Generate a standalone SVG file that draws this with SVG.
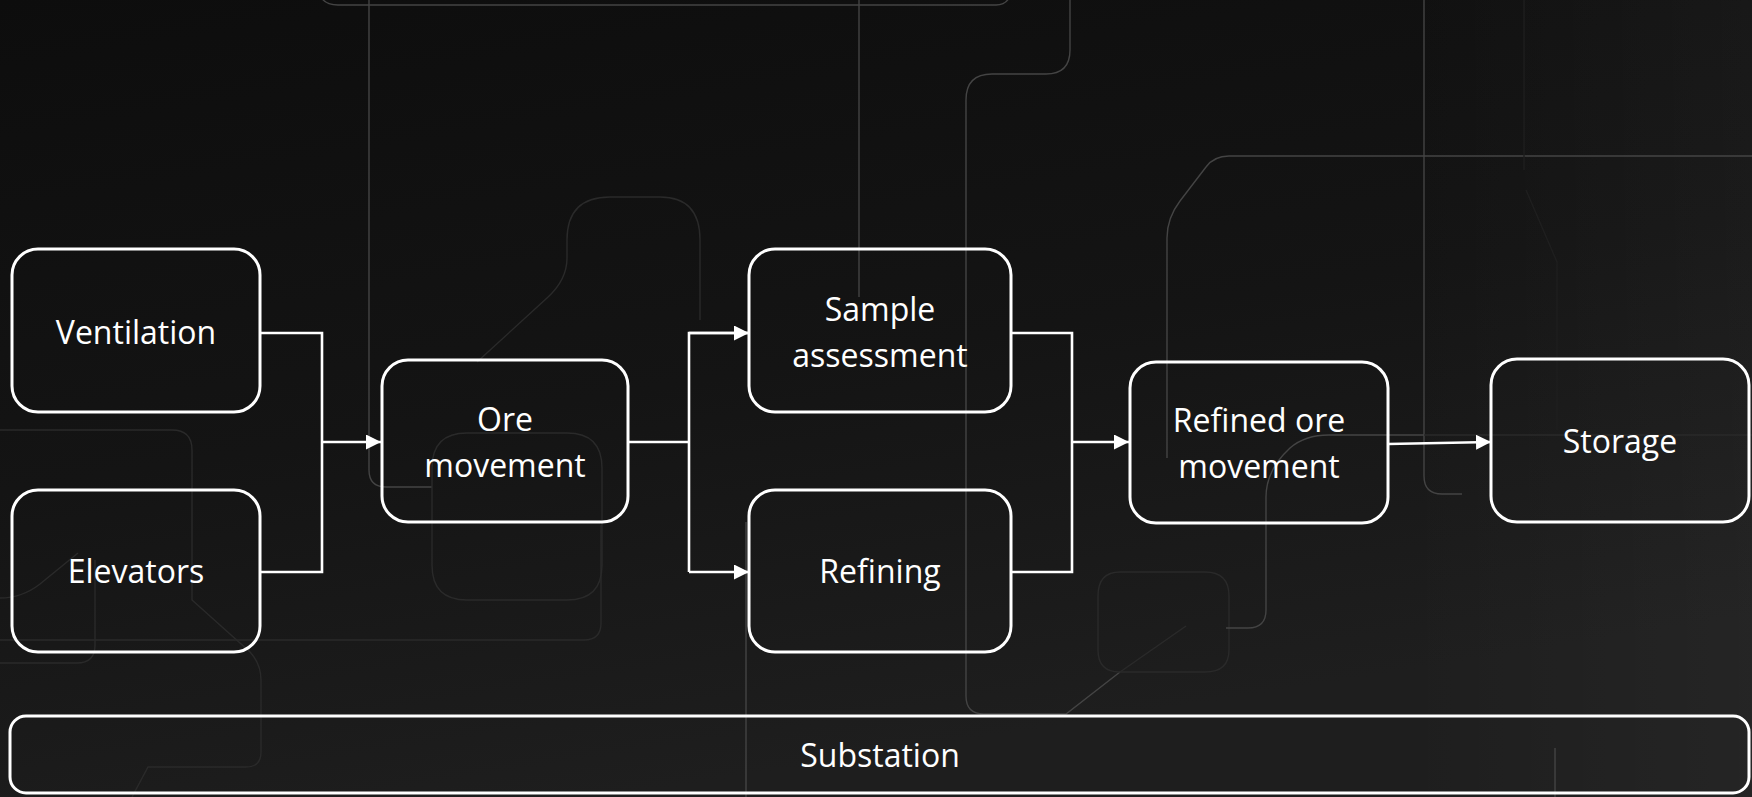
<svg xmlns="http://www.w3.org/2000/svg" width="1752" height="797" viewBox="0 0 1752 797">
  <defs>
    <linearGradient id="bg" x1="0" y1="0" x2="0.35" y2="1">
      <stop offset="0" stop-color="#0d0d0d"/>
      <stop offset="0.55" stop-color="#141414"/>
      <stop offset="1" stop-color="#1e1e1e"/>
    </linearGradient>
    <linearGradient id="bgSide" x1="0" y1="0" x2="1" y2="0">
      <stop offset="0.8" stop-color="#ffffff" stop-opacity="0"/>
      <stop offset="1" stop-color="#ffffff" stop-opacity="0.03"/>
    </linearGradient>
    <marker id="arrow" markerUnits="userSpaceOnUse" markerWidth="16" markerHeight="16" refX="15" refY="7.5" orient="auto">
      <path d="M0,0 L15,7.5 L0,15 z" fill="#ffffff"/>
    </marker>
    <style>
      .deco { fill: none; stroke: #444444; stroke-width: 1.4; }
      .deco-faint { fill: none; stroke: #2a2a2a; stroke-width: 1.4; }
      .deco-dim { fill: none; stroke: #1f1f1f; stroke-width: 1.4; }
      .box { fill: none; stroke: #ffffff; stroke-width: 3; }
      .label { font-family: "Open Sans", "Noto Sans", sans-serif; font-size: 32px; fill: #ffffff; text-anchor: middle; }
      .wire { fill: none; stroke: #ffffff; stroke-width: 2.6; }
    </style>
  </defs>

  <!-- backdrop -->
  <rect x="0" y="0" width="1752" height="797" fill="url(#bg)"/>
  <rect x="0" y="0" width="1752" height="797" fill="url(#bgSide)"/>

  <!-- decorative circuit traces -->
  <g id="traces">
    <path class="deco" d="M318,-12 Q320,5 338,5 H996 Q1010,5 1012,-12"/>
    <path class="deco" d="M1070,-1 V50 Q1070,74 1046,74 H992 Q966,74 966,100 V696 Q966,714 984,714 H1066 L1120,672"/>
    <path class="deco-faint" d="M1120,672 L1186,626" stroke-width="4"/>
    <path class="deco-faint" d="M1120,572 H1205 Q1229,572 1229,596 V650 Q1229,672 1205,672 H1120 Q1098,672 1098,650 V596 Q1098,572 1120,572 z"/>
    <path class="deco" d="M369,-1 V470 Q369,487 386,487 H432"/>
    <path class="deco" d="M859,-1 V297"/>
    <path class="deco" d="M746,522 V797"/>
    <path class="deco" d="M1424,-1 V476 Q1424,494 1442,494 H1462"/>
    <path class="deco" d="M1752,156 H1229 Q1214,156 1206,167 L1180,201 Q1167,218 1167,238 V458"/>
    <path class="deco" d="M1226,628 H1248 Q1266,628 1266,610 V497 Q1266,470 1290,448 Q1305,435 1329,435 H1424"/>
    <path class="deco-faint" d="M1424,435 H1752"/>
    <path class="deco-dim" d="M1524,-1 V170 M1526,190 L1557,262 V430"/>
    <path class="deco" d="M1555,748 V797"/>
    <path class="deco-faint" d="M0,640 H584 Q601,640 601,623 V525"/>
    <path class="deco-faint" d="M0,430 H172 Q192,430 192,450 V600 L250,652 Q261,664 261,680 V752 Q261,767 246,767 H148 L132,797"/>
    <path class="deco-faint" d="M0,598 Q22,598 40,584 L78,553"/>
    <path class="deco-faint" d="M95,560 V645 Q95,663 77,663 H0"/>
    <path class="deco-faint" d="M477,362 L547,298 Q567,280 567,258 V240 Q567,197 610,197 H660 Q700,197 700,240 V320"/>
    <path class="deco-faint" d="M467,433 H567 Q602,433 602,468 V565 Q602,600 567,600 H467 Q432,600 432,565 V468 Q432,433 467,433 z"/>
  </g>

  <!-- connectors -->
  <g id="connectors">
    <path class="wire" d="M260,333 H322 V572 H260"/>
    <path class="wire" d="M322,442 H381" marker-end="url(#arrow)"/>
    <path class="wire" d="M628,442 H689"/>
    <path class="wire" d="M749,333 H689 V572"/>
    <path class="wire" d="M689,333 H749" marker-end="url(#arrow)"/>
    <path class="wire" d="M689,572 H749" marker-end="url(#arrow)"/>
    <path class="wire" d="M1011,333 H1072 V572 H1011"/>
    <path class="wire" d="M1072,442 H1129" marker-end="url(#arrow)"/>
    <path class="wire" d="M1388,444 L1491,442" marker-end="url(#arrow)"/>
  </g>

  <!-- nodes -->
  <g id="ventilation">
    <rect class="box" x="12" y="249" width="248" height="163" rx="26"/>
    <text class="label" x="136" y="344">Ventilation</text>
  </g>
  <g id="elevators">
    <rect class="box" x="12" y="490" width="248" height="162" rx="26"/>
    <text class="label" x="136" y="583">Elevators</text>
  </g>
  <g id="ore-movement">
    <rect class="box" x="382" y="360" width="246" height="162" rx="26"/>
    <text class="label" x="505" y="431">Ore</text>
    <text class="label" x="505" y="477">movement</text>
  </g>
  <g id="sample-assessment">
    <rect class="box" x="749" y="249" width="262" height="163" rx="26"/>
    <text class="label" x="880" y="321">Sample</text>
    <text class="label" x="880" y="367">assessment</text>
  </g>
  <g id="refining">
    <rect class="box" x="749" y="490" width="262" height="162" rx="26"/>
    <text class="label" x="880" y="583">Refining</text>
  </g>
  <g id="refined-ore-movement">
    <rect class="box" x="1130" y="362" width="258" height="161" rx="26"/>
    <text class="label" x="1259" y="432">Refined ore</text>
    <text class="label" x="1259" y="478">movement</text>
  </g>
  <g id="storage">
    <rect class="box" x="1491" y="359" width="258" height="163" rx="26"/>
    <text class="label" x="1620" y="453">Storage</text>
  </g>
  <g id="substation">
    <rect class="box" x="10" y="716" width="1739" height="77" rx="16"/>
    <text class="label" x="880" y="767">Substation</text>
  </g>
</svg>
